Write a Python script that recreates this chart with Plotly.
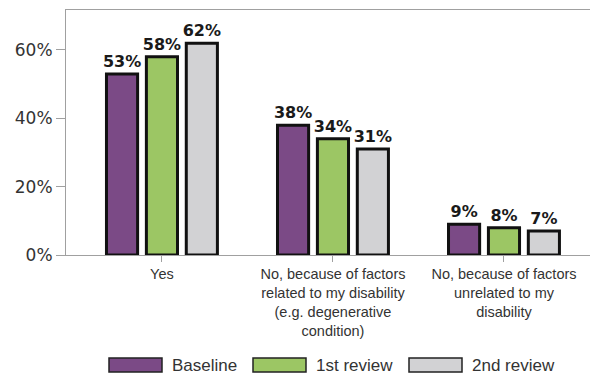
import plotly.graph_objects as go

# ---- data
categories = [
    "Yes",
    "No, because of factors<br>related to my disability<br>(e.g. degenerative<br>condition)",
    "No, because of factors<br>unrelated to my<br>disability",
]
series_names = ["Baseline", "1st review", "2nd review"]
baseline = [53, 38, 9]
review_1 = [58, 34, 8]
review_2 = [62, 31, 7]
y_ticks = [0, 20, 40, 60]

colors = ["#7b4a86", "#9cc664", "#d2d2d4"]

# page body has an 8px margin, so the figure is laid out in its own pixels
PL, PT, PR, PB = 58, 2, 582, 247


def px(x):
    return (x - PL) / (PR - PL)


def py(y):
    return (PB - y) / (PB - PT)


# ---- figure
fig = go.Figure()
for name, vals, col in zip(series_names, [baseline, review_1, review_2], colors):
    fig.add_trace(go.Bar(
        x=list(range(len(categories))),
        y=vals,
        name=name,
        marker=dict(color=col, line=dict(color="#111111", width=3)),
        text=["{}%".format(v) for v in vals],
        textposition="outside",
        constraintext="none",
        textfont=dict(family="DejaVu Sans", size=16, color="#1a1a1a", weight="bold"),
        cliponaxis=False,
        showlegend=False,
    ))

# ---- legend drawn as wide swatches
legend_x = [101, 245, 401]
for name, col, lx in zip(series_names, colors, legend_x):
    fig.add_shape(type="rect", xref="paper", yref="paper",
                  x0=px(lx), x1=px(lx + 53),
                  y0=py(364), y1=py(350),
                  fillcolor=col, line=dict(color="#222222", width=1.5))
    fig.add_annotation(xref="paper", yref="paper",
                       x=px(lx + 61), y=py(357),
                       text=name, showarrow=False, xanchor="left", yanchor="middle",
                       font=dict(family="Liberation Sans", size=17, color="#333333"))

fig.update_layout(
    width=590, height=366,
    barmode="group",
    bargap=0.3,
    bargroupgap=0.22,
    plot_bgcolor="white",
    paper_bgcolor="white",
    margin=dict(l=PL, r=590 - PR, t=PT, b=366 - PB),
    showlegend=False,
)
fig.update_xaxes(
    tickmode="array",
    tickvals=list(range(len(categories))),
    ticktext=categories,
    range=[-0.561, 2.503],
    showline=True, mirror=True, linecolor="#a0a0a0", linewidth=1,
    ticks="outside", ticklen=6, tickcolor="#a0a0a0",
    tickfont=dict(family="Liberation Sans", size=14.5, color="#333333"),
)
fig.update_yaxes(
    range=[0, 71.7],
    tickmode="array",
    tickvals=y_ticks,
    ticktext=["{}%".format(t) for t in y_ticks],
    showgrid=False, zeroline=False,
    showline=True, mirror=True, linecolor="#a0a0a0", linewidth=1,
    ticks="outside", ticklen=9, tickcolor="#a0a0a0",
    tickfont=dict(family="DejaVu Sans", size=17, color="#333333"),
)

fig.write_html("out.html")
